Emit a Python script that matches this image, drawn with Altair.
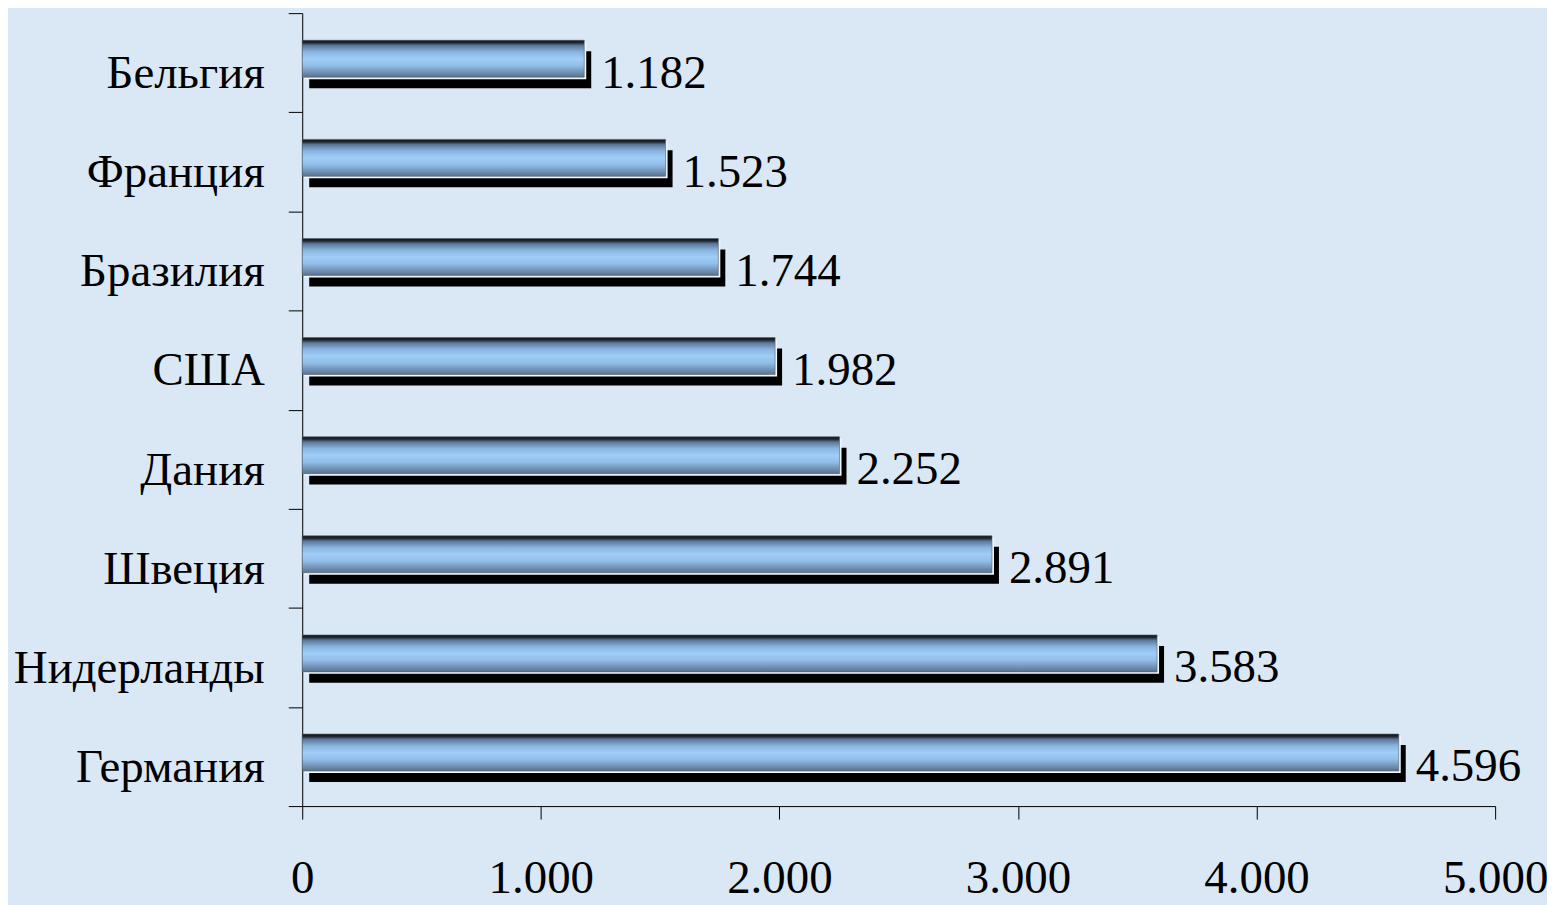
import altair as alt
import pandas as pd

countries = ["Бельгия", "Франция", "Бразилия", "США", "Дания", "Швеция", "Нидерланды", "Германия"]
values = [1182, 1523, 1744, 1982, 2252, 2891, 3583, 4596]
x_ticks = [0, 1000, 2000, 3000, 4000, 5000]

df = pd.DataFrame({
    "country": countries,
    "value": values,
    "label": [f"{v:,}".replace(",", ".") for v in values],
})

FONT = "Liberation Serif"
FS = 47

base = alt.Chart(df)

y_enc = alt.Y(
    "country:N",
    sort=countries,
    scale=alt.Scale(paddingInner=0, paddingOuter=0),
    axis=alt.Axis(
        title=None,
        tickBand="extent",
        tickSize=14,
        tickColor="black",
        domainColor="black",
        labelFont=FONT,
        labelFontSize=FS,
        labelColor="black",
        labelPadding=24,
        labelOffset=11,
        labelLimit=400,
    ),
)

x_enc = alt.X(
    "value:Q",
    scale=alt.Scale(domain=[0, 5000], nice=False),
    axis=alt.Axis(
        title=None,
        values=x_ticks,
        grid=False,
        tickSize=13,
        tickColor="black",
        domainColor="black",
        labelFont=FONT,
        labelFontSize=FS,
        labelColor="black",
        labelPadding=37,
        labelExpr="replace(format(datum.value, ','), ',', '.')",
        labelFlush=False,
    ),
)

shadow = base.mark_bar(color="black", size=37, xOffset=7, yOffset=7).encode(
    x=x_enc, y=y_enc
)
white = base.mark_bar(color="#f4f8fc", size=37, xOffset=2, yOffset=-2).encode(
    x=x_enc, y=y_enc
)
grad = alt.Gradient(
    gradient="linear",
    x1=0, x2=0, y1=0, y2=1,
    stops=[
        alt.GradientStop(color="#101010", offset=0),
        alt.GradientStop(color="#222a36", offset=0.07),
        alt.GradientStop(color="#5a7698", offset=0.14),
        alt.GradientStop(color="#8bb4e0", offset=0.32),
        alt.GradientStop(color="#9ecdf8", offset=0.5),
        alt.GradientStop(color="#92bfea", offset=0.68),
        alt.GradientStop(color="#6f8eb2", offset=0.88),
        alt.GradientStop(color="#5a718c", offset=1),
    ],
)
main = base.mark_bar(color=grad, size=37, yOffset=-4, stroke="#555f6a", strokeWidth=0.6).encode(
    x=x_enc, y=y_enc
)
labels = base.mark_text(
    align="left", baseline="middle", dx=17, dy=11, font=FONT, fontSize=FS, color="black"
).encode(x=x_enc, y=y_enc, text="label:N")

chart = (
    alt.layer(shadow, white, main, labels)
    .properties(
        width=1196,
        height=795,
        autosize=alt.AutoSizeParams(type="none"),
        padding={"left": 295, "top": 4, "right": 52, "bottom": 98},
        background="#dae7f4",
    )
    .configure_view(strokeWidth=0)
)

chart.save("out.html", embed_options={"renderer": "svg", "actions": False})
